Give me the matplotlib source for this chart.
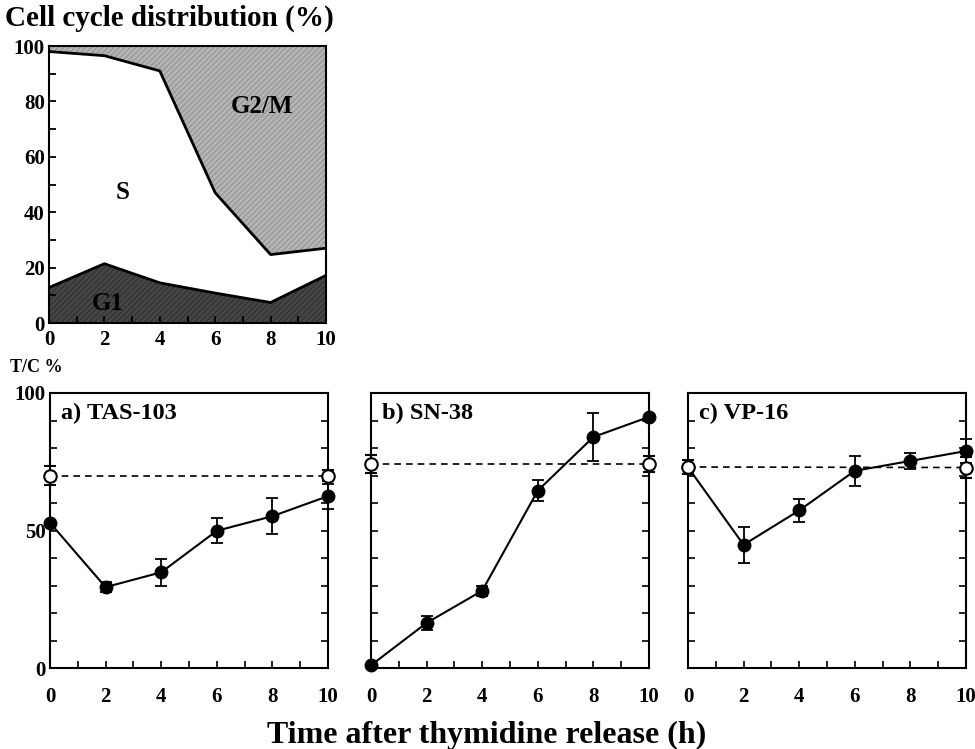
import matplotlib
matplotlib.use("Agg")
import matplotlib.pyplot as plt
import numpy as np

plt.rcParams['font.family'] = ['Liberation Serif', 'DejaVu Serif']
plt.rcParams['font.weight'] = 'bold'
plt.rcParams['hatch.linewidth'] = 0.6

# Cell cycle distribution data
cc_time = [0, 2, 4, 6, 8, 10]
g1 = [12.8, 21.4, 14.5, 10.8, 7.4, 17.2]
g1_plus_s = [98.0, 96.5, 91.0, 47.0, 24.7, 27.0]

# T/C % data
time = [0, 2, 4, 6, 8, 10]
ctrl_time = [0, 10]

tas_vals = [52.8, 29.4, 34.8, 49.9, 55.2, 62.5]
tas_err = [0.0, 1.8, 5.0, 4.5, 6.5, 4.5]
tas_ctrl = [70.0, 70.0]
tas_ctrl_err = [3.5, 2.0]

sn_vals = [1.0, 16.4, 28.1, 64.5, 84.0, 91.3]
sn_err = [0.0, 2.5, 1.8, 3.8, 8.7, 0.0]
sn_ctrl = [74.2, 74.2]
sn_ctrl_err = [3.2, 3.0]

vp_vals = [73.0, 44.8, 57.3, 71.7, 75.3, 78.9]
vp_err = [0.0, 6.5, 4.2, 5.4, 3.0, 4.5]
vp_ctrl = [73.1, 72.9]
vp_ctrl_err = [2.7, 3.7]

panel_titles = ['a) TAS-103', 'b) SN-38', 'c) VP-16']
x_ticks = [0, 2, 4, 6, 8, 10]

fig = plt.figure(figsize=(9.75, 7.49), dpi=100)

TICK_FS = 15

# --- top panel ---
ax0 = fig.add_axes([49/975, 1-323/749, 277/975, 277/749])
ax0.fill_between(cc_time, 0, g1, facecolor='#454545', edgecolor='#2a2a2a',
                 hatch='//////', linewidth=0)
ax0.fill_between(cc_time, g1, g1_plus_s, facecolor='white', linewidth=0)
ax0.fill_between(cc_time, g1_plus_s, 100, facecolor='#b4b4b4', edgecolor='#8a8a8a',
                 hatch='//////', linewidth=0)
ax0.plot(cc_time, g1, color='black', lw=2)
ax0.plot(cc_time, g1_plus_s, color='black', lw=2)
ax0.set_xlim(0, 10)
ax0.set_ylim(0, 100)
ax0.set_xticks(x_ticks)
ax0.set_xticks(range(0, 11), minor=True)
ax0.set_yticks([0, 20, 40, 60, 80, 100])
ax0.set_yticks(range(0, 101, 10), minor=True)
ax0.tick_params(which='both', direction='in', length=5, width=1.3,
                labelsize=TICK_FS, pad=3)
ax0.tick_params(axis='x', pad=5)
for s in ax0.spines.values():
    s.set_linewidth(1.5)
ax0.text(2.67, 47, 'S', fontsize=18, fontweight='bold', ha='center', va='center')
ax0.text(7.7, 78, 'G2/M', fontsize=18, fontweight='bold', ha='center', va='center')
ax0.text(2.13, 7, 'G1', fontsize=18, fontweight='bold', ha='center', va='center')
fig.text(5/975, 1-18/749, 'Cell cycle distribution (%)', fontsize=21,
         fontweight='bold', ha='left', va='center')

# --- bottom panels ---
lefts = [50/975, 371/975, 688/975]
vals = [tas_vals, sn_vals, vp_vals]
errs = [tas_err, sn_err, vp_err]
ctrls = [tas_ctrl, sn_ctrl, vp_ctrl]
ctrl_errs = [tas_ctrl_err, sn_ctrl_err, vp_ctrl_err]

for i in range(3):
    ax = fig.add_axes([lefts[i], 1-668/749, 278/975, 275/749])
    ax.plot([0, 10], ctrls[i], color='black', lw=1.2, ls=(0, (4, 3)), zorder=2)
    ax.errorbar(time, vals[i], yerr=errs[i], fmt='-o', color='black', lw=1.5,
                ms=9, capsize=4.5, elinewidth=1.3, capthick=1.3, zorder=3)
    ax.errorbar(ctrl_time, ctrls[i], yerr=ctrl_errs[i], fmt='o', color='black',
                mfc='white', mec='black', mew=1.5, ms=9, capsize=4.5,
                elinewidth=1.3, capthick=1.3, zorder=4, clip_on=False)
    ax.set_xlim(0, 10)
    ax.set_ylim(0, 100)
    ax.set_xticks(x_ticks)
    ax.set_xticks(range(0, 11), minor=True)
    ax.set_yticks([0, 50, 100])
    ax.set_yticks(range(0, 101, 10), minor=True)
    ax.tick_params(which='both', direction='in', length=5, width=1.2,
                   labelsize=TICK_FS, right=True, pad=3)
    ax.tick_params(axis='x', pad=14)
    if i > 0:
        ax.set_yticklabels([])
    for s in ax.spines.values():
        s.set_linewidth(1.5)
    ax.text(0.4, 92.5, panel_titles[i], fontsize=17.5, fontweight='bold',
            ha='left', va='center')
    for line in ax.lines:
        line.set_clip_on(False)

fig.text(10/975, 1-368/749, 'T/C %', fontsize=13, fontweight='bold',
         ha='left', va='center')
fig.text(487/975, 1-735/749, 'Time after thymidine release (h)', fontsize=23,
         fontweight='bold', ha='center', va='center')

fig.savefig('out.png', dpi=100)
